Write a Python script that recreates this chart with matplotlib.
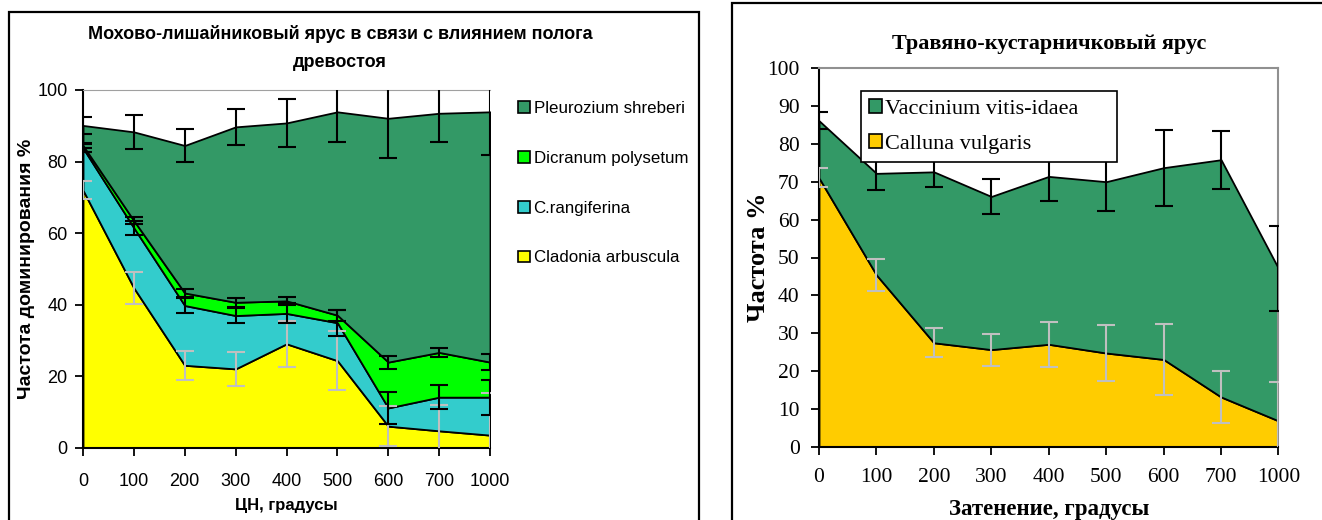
import matplotlib
matplotlib.use("Agg")
import matplotlib.pyplot as plt
import numpy as np
from matplotlib.patches import Rectangle, Patch

# --- data ---------------------------------------------------------------
x_labels = ["0", "100", "200", "300", "400", "500", "600", "700", "1000"]

# left chart (stack order bottom -> top)
cladonia = [72.0, 44.7, 23.1, 22.1, 29.1, 24.4, 6.1, 4.8, 3.6]
rangiferina = [11.8, 16.8, 16.7, 14.9, 8.5, 10.6, 5.1, 9.4, 10.6]
dicranum = [0.7, 2.0, 3.5, 3.7, 3.5, 2.1, 12.8, 12.5, 9.8]
pleurozium = [5.6, 24.8, 41.2, 49.0, 49.7, 56.8, 68.1, 66.8, 69.9]
cladonia_err = [2.5, 4.5, 4.0, 4.7, 6.4, 8.2, 5.5, 7.3, 11.8]
rangiferina_err = [1.0, 2.0, 2.0, 2.0, 2.8, 3.6, 4.4, 3.4, 4.9]
dicranum_err = [0.8, 1.0, 1.0, 1.2, 1.2, 1.5, 1.8, 1.2, 2.2]
pleurozium_err = [2.4, 4.7, 4.5, 5.0, 6.8, 8.5, 11.0, 8.0, 12.0]

# right chart
calluna = [71.0, 45.4, 27.5, 25.7, 27.1, 24.8, 23.1, 13.2, 6.9]
vaccinium = [15.1, 26.8, 45.1, 40.4, 44.3, 45.2, 50.6, 62.6, 40.2]
calluna_err = [2.5, 4.2, 3.8, 4.2, 6.0, 7.3, 9.3, 6.9, 10.2]
vaccinium_err = [2.3, 4.5, 4.1, 4.7, 6.6, 7.7, 10.0, 7.6, 11.2]

W, H = 1322, 520
fig = plt.figure(figsize=(W / 100, H / 100), dpi=100)

def px_axes(x0, y0, x1, y1):
    # pixel box (top-left origin) -> figure axes
    return fig.add_axes([x0 / W, 1 - y1 / H, (x1 - x0) / W, (y1 - y0) / H])

# panel frames
fig.patches.append(Rectangle((9 / W, -0.05), 690 / W, 1 - 12 / H + 0.05,
                             transform=fig.transFigure, fill=False,
                             edgecolor="black", linewidth=1.6))
fig.patches.append(Rectangle((732 / W, -0.05), 0.6, 1 - 3 / H + 0.05,
                             transform=fig.transFigure, fill=False,
                             edgecolor="black", linewidth=1.6))

x = np.arange(len(x_labels))
sans = ["Liberation Sans", "DejaVu Sans"]
serif = ["Liberation Serif", "DejaVu Serif"]


def stacked(ax, layers, colors, errs, errcolors):
    base = np.zeros(len(x))
    tops = []
    for vals, col in zip(layers, colors):
        top = base + np.array(vals)
        ax.fill_between(x, base, top, facecolor=col, edgecolor="black",
                        linewidth=1.3, zorder=2)
        tops.append(top)
        base = top
    for top, err, ec in zip(tops, errs, errcolors):
        ax.errorbar(x, top, yerr=err, fmt="none", ecolor=ec, elinewidth=1.5,
                    capsize=6.5, capthick=1.5, zorder=4)


# --- left chart ---------------------------------------------------------
ax1 = px_axes(83, 90, 490, 448)
stacked(ax1, [cladonia, rangiferina, dicranum, pleurozium],
        ["#FFFF00", "#33CCCC", "#00FF00", "#339966"],
        [cladonia_err, rangiferina_err, dicranum_err, pleurozium_err],
        ["#C0C0C0", "black", "black", "black"])
ax1.set_xlim(0, 8)
ax1.set_ylim(0, 100)
ax1.set_yticks(range(0, 101, 20))
ax1.set_xticks(x)
ax1.set_xticklabels(x_labels)
ax1.spines["right"].set_visible(False)
ax1.spines["top"].set_color("#A0A0A0")
ax1.spines["left"].set_linewidth(1.5)
ax1.spines["bottom"].set_linewidth(1.5)
ax1.tick_params(axis="y", direction="out", length=6, width=1.3, pad=5)
ax1.tick_params(axis="x", direction="out", length=6, width=1.3, pad=12)
for lab in ax1.get_xticklabels() + ax1.get_yticklabels():
    lab.set_family(sans)
    lab.set_fontsize(13)
ax1.set_xlabel("ЦН, градусы", family=sans, fontsize=12, fontweight="bold",
               labelpad=6)
ax1.set_ylabel("Частота доминирования %", family=sans,
               fontsize=14, fontweight="bold", labelpad=2)
fig.text(340 / W, 1 - 48 / H, "Мохово-лишайниковый ярус в связи с влиянием полога\nдревостоя",
         ha="center", va="center", family=sans, fontsize=13, fontweight="bold",
         linespacing=1.85)

left_handles = [Patch(facecolor=c, edgecolor="black", linewidth=1.2)
                for c in ["#339966", "#00FF00", "#33CCCC", "#FFFF00"]]
left_names = ["Pleurozium shreberi", "Dicranum polysetum", "C.rangiferina",
              "Cladonia arbuscula"]
fig.legend(left_handles, left_names, loc="upper left",
           bbox_to_anchor=(503 / W, 1 - 86 / H), frameon=False,
           prop={"family": sans, "size": 12.2}, handlelength=0.7,
           handleheight=0.7, handletextpad=0.2, labelspacing=2.05)

# --- right chart --------------------------------------------------------
ax2 = px_axes(819, 68, 1278.5, 447)
stacked(ax2, [calluna, vaccinium], ["#FFCC00", "#339966"],
        [calluna_err, vaccinium_err], ["#C0C0C0", "black"])
ax2.set_xlim(0, 8)
ax2.set_ylim(0, 100)
ax2.set_yticks(range(0, 101, 10))
ax2.set_xticks(x)
ax2.set_xticklabels(x_labels)
ax2.spines["top"].set_color("#909090")
ax2.spines["right"].set_color("#909090")
for side in ["top", "right", "left", "bottom"]:
    ax2.spines[side].set_linewidth(1.5)
ax2.tick_params(axis="y", direction="out", length=6, width=1.3, pad=8)
ax2.tick_params(axis="x", direction="out", length=6, width=1.3, pad=9)
for lab in ax2.get_xticklabels() + ax2.get_yticklabels():
    lab.set_family(serif)
    lab.set_fontsize(15.5)
ax2.set_xlabel("Затенение, градусы", family=serif, fontsize=16.5,
               fontweight="bold", labelpad=9)
ax2.set_ylabel("Частота %", family=serif, fontsize=19, fontweight="bold",
               labelpad=-2)
ax2.set_title("Травяно-кустарничковый ярус", family=serif, fontsize=16,
              fontweight="bold", pad=14)

right_handles = [Patch(facecolor=c, edgecolor="black", linewidth=1.2)
                 for c in ["#339966", "#FFCC00"]]
leg = ax2.legend(right_handles, ["Vaccinium vitis-idaea", "Calluna vulgaris"],
                 loc="upper left",
                 bbox_to_anchor=(42 / 459.5, 1 - 94 / 379, 256 / 459.5, 71 / 379),
                 mode="expand", borderaxespad=0, fancybox=False,
                 edgecolor="black", framealpha=1,
                 prop={"family": serif, "size": 16},
                 handlelength=0.6, handleheight=0.6, handletextpad=0.15,
                 labelspacing=0.7, borderpad=0.35)
leg.get_frame().set_linewidth(1.2)
leg.set_zorder(10)

fig.savefig("out.png", dpi=100)
